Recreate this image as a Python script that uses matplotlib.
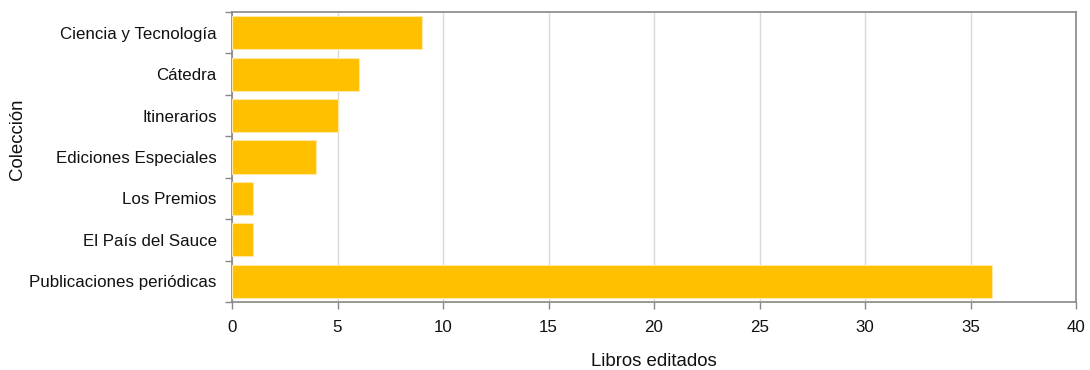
import numpy as np
import matplotlib.pyplot as plt

plt.rcParams['font.family'] = ['Liberation Sans', 'DejaVu Sans']

# data, top to bottom as shown
colecciones = ['Ciencia y Tecnología', 'Cátedra', 'Itinerarios', 'Ediciones Especiales',
               'Los Premios', 'El País del Sauce', 'Publicaciones periódicas']
libros = [9, 6, 5, 4, 1, 1, 36]
x_ticks = [0, 5, 10, 15, 20, 25, 30, 35, 40]

fig = plt.figure(figsize=(10.9, 3.7), dpi=100)
ax = fig.add_axes([232 / 1090, 1 - 302 / 370, (1076 - 232) / 1090, (302 - 12) / 370])

y = np.arange(len(colecciones))
ax.barh(y, libros, height=0.8, color='#FFC000', edgecolor='#FFE9A8', linewidth=0.8, zorder=3)

ax.set_xlim(0, 40)
ax.set_ylim(len(colecciones) - 0.5, -0.5)
ax.set_xticks(x_ticks)
ax.set_yticks(y)
ax.set_yticklabels(colecciones)
ax.set_yticks(np.arange(len(colecciones) + 1) - 0.5, minor=True)

ax.grid(axis='x', color='#d9d9d9', linewidth=1, zorder=0)
for s in ax.spines.values():
    s.set_color('#888888')
    s.set_linewidth(1.2)

ax.tick_params(axis='y', which='major', length=0, pad=11, labelsize=12.2, labelcolor='#111111')
ax.tick_params(axis='y', which='minor', length=5, color='#888888', width=1)
ax.tick_params(axis='x', length=5, color='#888888', width=1, pad=8, labelsize=12.2, labelcolor='#111111')

ax.set_xlabel('Libros editados', fontsize=13.4, labelpad=13, color='#111111')
ax.set_ylabel('Colección', fontsize=13.4, color='#111111', va='center')
ax.yaxis.set_label_coords(-0.254, 0.562)

fig.savefig('out.png', dpi=100)
